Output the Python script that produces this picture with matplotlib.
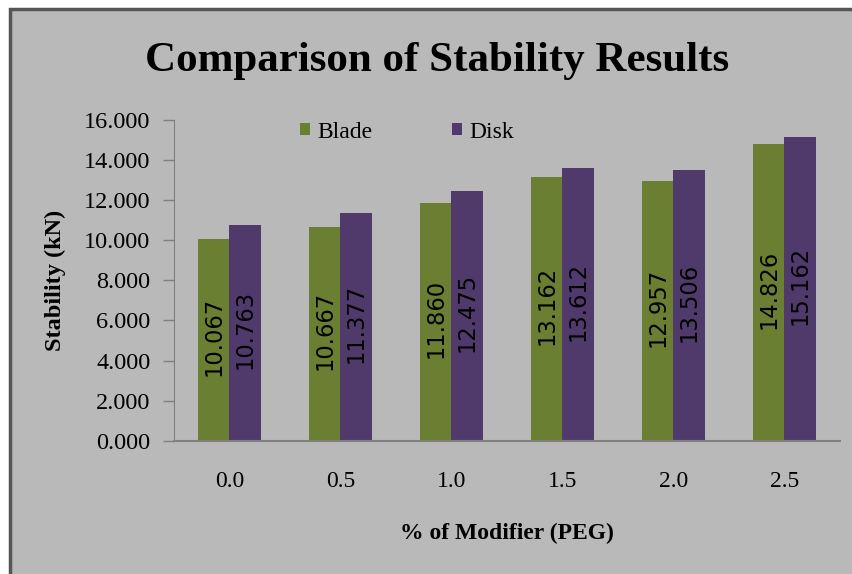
import matplotlib
matplotlib.use("Agg")
import matplotlib.pyplot as plt
from matplotlib.patches import Rectangle
import numpy as np

categories = ["0.0", "0.5", "1.0", "1.5", "2.0", "2.5"]
blade = [10.067, 10.667, 11.860, 13.162, 12.957, 14.826]
disk = [10.763, 11.377, 12.475, 13.612, 13.506, 15.162]
series_names = ["Blade", "Disk"]
y_ticks = [0, 2, 4, 6, 8, 10, 12, 14, 16]

green = "#6a7f32"
purple = "#503a6c"
panel = "#b9b9b9"
serif = "Liberation Serif"

fig = plt.figure(figsize=(8.53, 5.74), dpi=100)
fig.patch.set_facecolor("white")

# chart panel with dark frame on the left and top
fig.patches.append(Rectangle((10 / 853, -0.05), 1.1, 1 - 9 / 574 + 0.05,
                             transform=fig.transFigure, facecolor=panel,
                             edgecolor="#555555", linewidth=2.5, zorder=-10))

ax = fig.add_axes([174 / 853, 133.3 / 574, 666 / 853, 320.7 / 574])
ax.set_facecolor("none")
ax.set_zorder(1)

x = np.arange(len(categories))
w = 0.285
b1 = ax.bar(x - w / 2, blade, w, color=green, label=series_names[0], zorder=2)
b2 = ax.bar(x + w / 2, disk, w, color=purple, label=series_names[1], zorder=2)

for bars, vals in ((b1, blade), (b2, disk)):
    for r, v in zip(bars, vals):
        ax.text(r.get_x() + r.get_width() / 2, v / 2 + 0.15, f"{v:.3f}",
                rotation=90, ha="center", va="center", fontsize=16.3,
                family="DejaVu Sans", color="black", zorder=3)

ax.set_xlim(-0.5, len(categories) - 0.5)
ax.set_ylim(0, 16)
ax.set_yticks(y_ticks)
ax.set_yticklabels([f"{t:.3f}" for t in y_ticks], family=serif, fontsize=17.5)
ax.set_xticks(x)
ax.set_xticklabels(categories, family=serif, fontsize=17)
ax.tick_params(axis="y", length=8, width=1, color="#808080", pad=9)
ax.tick_params(axis="x", length=0, pad=22)

for s in ("top", "right"):
    ax.spines[s].set_visible(False)
ax.spines["left"].set_color("#808080")
ax.spines["bottom"].set_color("#808080")
ax.spines["bottom"].set_linewidth(1.5)

ax.set_ylabel("Stability (kN)", family=serif, fontsize=17.5, fontweight="bold",
              labelpad=13)
ax.set_xlabel("% of Modifier (PEG)", family=serif, fontsize=17,
              fontweight="bold", labelpad=22)

leg = ax.legend(loc="center left",
                bbox_to_anchor=((300 - 174) / 666, (440.7 - 132) / 320.7),
                ncol=2, frameon=False, prop={"family": serif, "size": 17},
                borderpad=0, borderaxespad=0,
                handlelength=0.42, handleheight=0.42, handletextpad=0.3,
                columnspacing=3.4)

fig.text(437 / 853, 1 - 61 / 574, "Comparison of Stability Results",
         ha="center", va="center", family=serif, fontweight="bold",
         fontsize=31)

fig.savefig("out.png", dpi=100, facecolor=fig.get_facecolor())
